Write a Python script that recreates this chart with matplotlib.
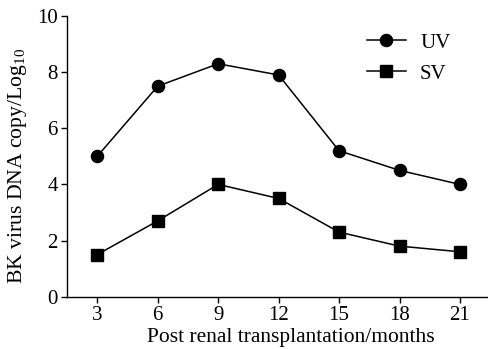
import matplotlib
matplotlib.use("Agg")
import matplotlib.pyplot as plt

months = [3, 6, 9, 12, 15, 18, 21]
uv = [5.0, 7.5, 8.3, 7.9, 5.2, 4.5, 4.0]
sv = [1.5, 2.7, 4.0, 3.5, 2.3, 1.8, 1.6]
yticks = [0, 2, 4, 6, 8, 10]

plt.rcParams['font.family'] = ['Liberation Serif', 'DejaVu Serif']
plt.rcParams['mathtext.fontset'] = 'custom'
plt.rcParams['mathtext.rm'] = 'Liberation Serif'

fig = plt.figure(figsize=(4.89, 3.49), dpi=100)
ax = fig.add_axes([0.137, 0.150, 0.863, 0.804])

ax.plot(months, uv, color='black', lw=1.1, marker='o', ms=8.7, label='UV')
ax.plot(months, sv, color='black', lw=1.1, marker='s', ms=8.7, label='SV')

ax.set_xlim(1.5, 22.44)
ax.set_ylim(0, 10)
ax.set_xticks(months)
ax.set_yticks(yticks)
for s in ['top', 'right']:
    ax.spines[s].set_visible(False)
for s in ['left', 'bottom']:
    ax.spines[s].set_linewidth(1.0)
ax.tick_params(direction='out', length=4.5, width=1.0, labelsize=15, pad=2)

ax.set_xlabel('Post renal transplantation/months', fontsize=15.5, labelpad=2.5)
ax.xaxis.set_label_coords(0.531, -0.085, transform=None) if False else None
ax.xaxis.label.set_x(0.531)
ax.set_ylabel('BK virus DNA copy/Log$_{\\mathregular{10}}$', fontsize=15.6, labelpad=6)
ax.yaxis.label.set_y(0.466)

fig.legend(loc='upper left', bbox_to_anchor=(0.7505, 0.905), frameon=False, fontsize=15,
           handlelength=1.85, handletextpad=0.7, labelspacing=0.55, borderpad=0,
           borderaxespad=0)

fig.savefig('out.png', dpi=100)
